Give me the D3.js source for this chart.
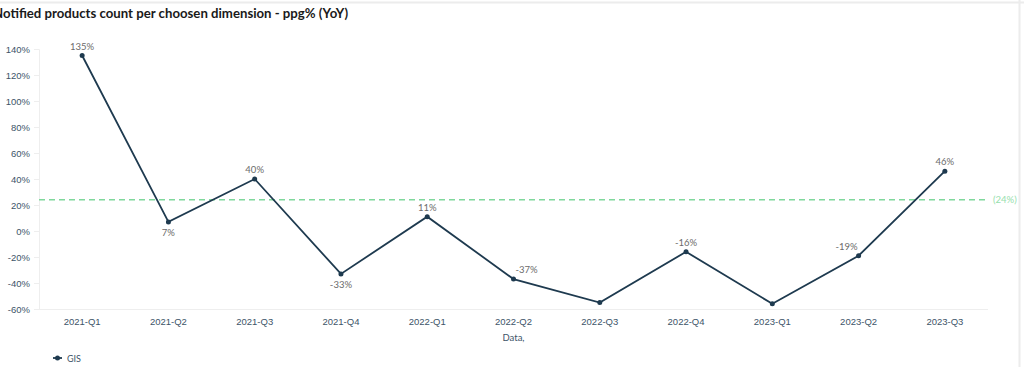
<!DOCTYPE html>
<html><head><meta charset="utf-8">
<script src="https://cdn.jsdelivr.net/npm/d3@7"></script>
<style>
html,body{margin:0;padding:0;background:#fff;}
svg{display:block;font-family:Lato, "Open Sans", sans-serif;}
</style></head>
<body>
<svg id="chart" width="1024" height="367"></svg>
<script>
const categories = ["2021-Q1","2021-Q2","2021-Q3","2021-Q4","2022-Q1","2022-Q2","2022-Q3","2022-Q4","2023-Q1","2023-Q2","2023-Q3"];
const values = [135, 7, 40, -33, 11, -37, -55, -16, -56, -19, 46];
const labelPos = ["top","bottom","top","bottom","top","top-right","none","top","none","top-left","top"];
const yTicks = [-60,-40,-20,0,20,40,60,80,100,120,140];
const refValue = 24;
const seriesName = "GIS";
const titleText = "Notified products count per choosen dimension - ppg% (YoY)";
const xTitle = "Data,";

const svg = d3.select("#chart");
const x = d3.scaleBand().domain(categories).range([39, 988]);
const y = d3.scaleLinear().domain([-60, 140]).range([309, 49]);

// frame
svg.append("line").attr("x1",0).attr("x2",1024).attr("y1",2.5).attr("y2",2.5).attr("stroke","#ececec").attr("stroke-width",2);
svg.append("line").attr("x1",1019.5).attr("x2",1019.5).attr("y1",0).attr("y2",367).attr("stroke","#ececec").attr("stroke-width",2);

// title
svg.append("text").attr("x",-7).attr("y",18).text(titleText)
  .attr("font-size",13.2).attr("font-weight","bold").attr("fill","#1a1a1a");

// y axis
const yAxis = svg.append("g").attr("transform","translate(39,0)")
  .call(d3.axisLeft(y).tickValues(yTicks).tickFormat(d=>d+"%").tickSize(5).tickPadding(4));
yAxis.select(".domain").attr("stroke","#eeeeee");
yAxis.selectAll(".tick line").attr("stroke","#eeeeee");
yAxis.selectAll("text").attr("font-size",9.5).attr("fill","#3d5468");

// bottom baseline
svg.append("line").attr("x1",34).attr("x2",988).attr("y1",y(-60)+0.5).attr("y2",y(-60)+0.5).attr("stroke","#eeeeee");

// x axis
const xAxis = svg.append("g").attr("transform","translate(0,309)")
  .call(d3.axisBottom(x).tickSize(0).tickPadding(9));
xAxis.select(".domain").remove();
xAxis.selectAll("text").attr("font-size",9.5).attr("fill","#3d5468");
svg.append("text").attr("x",(39+988)/2).attr("y",341).attr("text-anchor","middle")
  .attr("font-size",9.5).attr("fill","#3d5468").text(xTitle);

// reference line
svg.append("line").attr("x1",39).attr("x2",988).attr("y1",y(refValue)).attr("y2",y(refValue))
  .attr("stroke","#7fd89c").attr("stroke-width",1.5).attr("stroke-dasharray","6,4");
svg.append("text").attr("x",993).attr("y",y(refValue)+3.5).attr("font-size",9.5).attr("fill","#95e0ad").text("("+refValue+"%)");

// line
const cx = d => x(d) + x.bandwidth()/2;
const data = categories.map((c,i)=>({c, v: values[i], p: labelPos[i]}));
svg.append("path").datum(data)
  .attr("d", d3.line().x(d=>cx(d.c)).y(d=>y(d.v)))
  .attr("fill","none").attr("stroke","#1e3a4f").attr("stroke-width",1.8);
svg.selectAll("circle.pt").data(data).join("circle").attr("class","pt")
  .attr("cx",d=>cx(d.c)).attr("cy",d=>y(d.v)).attr("r",2.5).attr("fill","#1e3a4f");
const dxFor = p => p==="top-right" ? 13 : p==="top-left" ? -12 : 0;
svg.selectAll("text.lbl").data(data.filter(d=>d.p!=="none")).join("text").attr("class","lbl")
  .attr("x",d=>cx(d.c)+dxFor(d.p)).attr("y",d=>d.p==="bottom" ? y(d.v)+14 : y(d.v)-6)
  .attr("text-anchor","middle").attr("font-size",9.5).attr("fill","#6b6b6b")
  .text(d=>d.v+"%");

// legend
const lg = svg.append("g").attr("transform","translate(53,358)");
lg.append("line").attr("x1",0).attr("x2",9).attr("y1",0).attr("y2",0).attr("stroke","#1e3a4f").attr("stroke-width",1.8);
lg.append("circle").attr("cx",4.5).attr("cy",0).attr("r",2.5).attr("fill","#1e3a4f");
lg.append("text").attr("x",14).attr("y",3.5).attr("font-size",9).attr("fill","#3d5468").text(seriesName);
</script>
</body></html>
